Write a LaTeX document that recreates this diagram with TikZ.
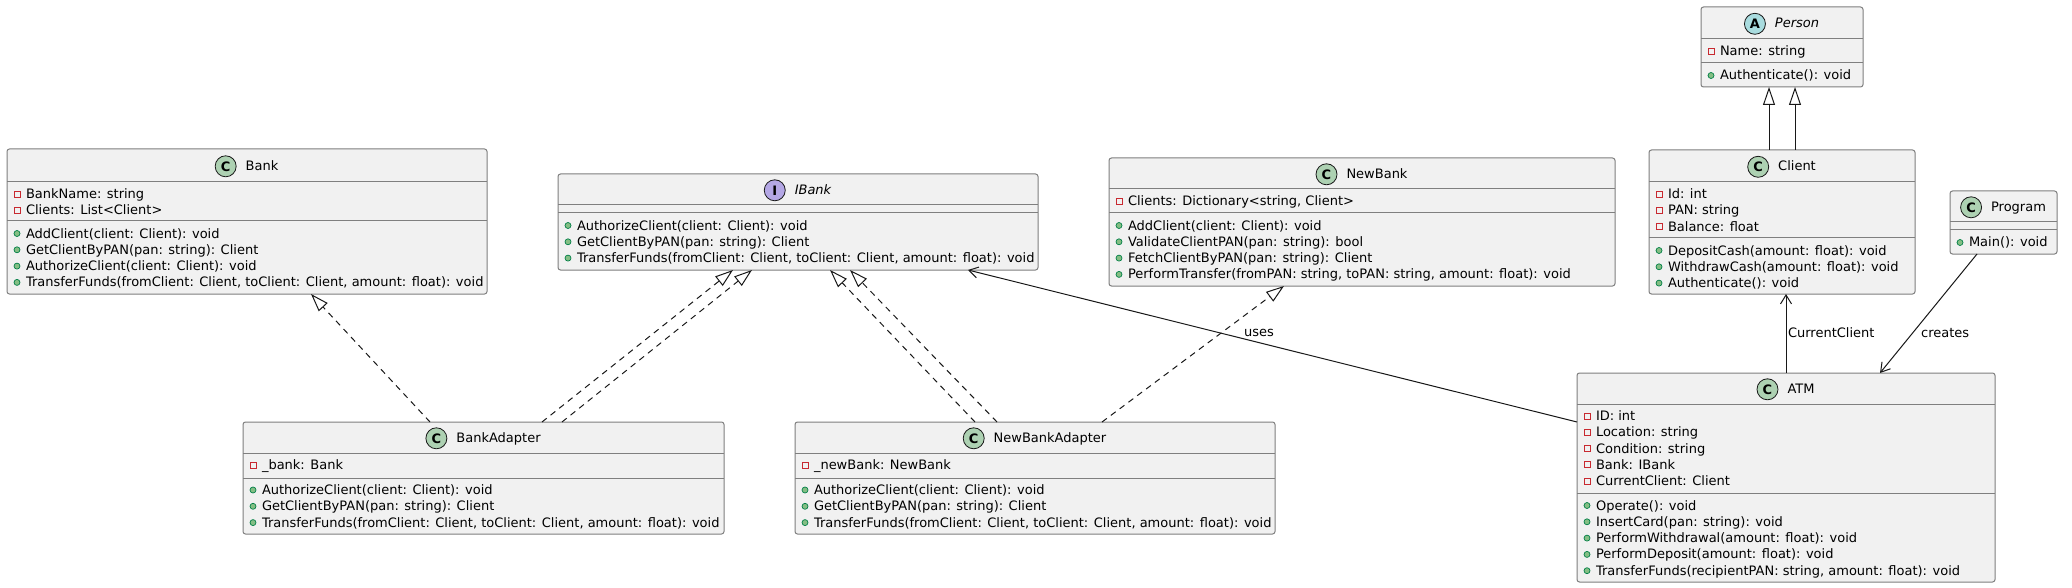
\documentclass[tikz,border=0pt]{standalone}
\usepackage{fontspec}
\setmainfont{DejaVu Sans}
\usetikzlibrary{arrows.meta,calc}
\definecolor{boxfill}{HTML}{F1F1F1}
\definecolor{boxline}{HTML}{7F7F7F}
\definecolor{conn}{HTML}{181818}
\definecolor{prvred}{HTML}{C82930}
\definecolor{pubfill}{HTML}{84BE84}
\definecolor{publine}{HTML}{038048}
\definecolor{spotC}{HTML}{ADD1B2}
\definecolor{spotI}{HTML}{B4A7E5}
\definecolor{spotA}{HTML}{A9DCDF}
\tikzset{
 clsbox/.style={draw=boxline, fill=boxfill, line width=1pt, rounded corners=2.5pt, inner sep=0pt, outer sep=0pt, anchor=north west},
 sepline/.style={draw=boxline, line width=1pt},
 rowtext/.style={inner sep=0pt, outer sep=0pt, anchor=base west, font=\fontsize{13}{16}\selectfont, text=black},
 hdrtext/.style={inner sep=0pt, outer sep=0pt, anchor=base, font=\fontsize{13}{16}\selectfont, text=black},
 spotc/.style={circle, draw=conn, line width=0.8pt, minimum size=21pt, inner sep=0pt, font=\fontsize{13}{16}\selectfont\bfseries},
 prvmark/.style={draw=prvred, line width=0.9pt},
 pubmark/.style={draw=publine, fill=pubfill, line width=0.7pt},
 conline/.style={draw=conn, line width=1pt},
 realize/.style={conline, dash pattern=on 6pt off 5pt, -{Triangle[open, length=18pt, width=12pt]}},
 generalize/.style={conline, -{Triangle[open, length=18pt, width=12pt]}},
 assoc/.style={conline, -{Straight Barb[length=9pt, width=11pt]}},
 lbl/.style={inner sep=0pt, font=\fontsize{13}{16}\selectfont, text=black},
}
\newcommand\umlbox[5]{\node[clsbox, minimum width=#4pt, minimum height=#5pt] (#1) at (#2,#3) {};}
\newcommand\umlsep[2]{\draw[sepline] ([yshift=-#2pt]#1.north west) -- ([yshift=-#2pt]#1.north east);}
\newcommand\umlhead[5]{%
  \node[hdrtext] (#1-name) at ([xshift=15pt, yshift={-(#2/2+4.8)*1pt}]#1.north) {#5};
  \node[spotc, fill=#4] (#1-spot) at ([xshift=-20pt, yshift=4pt]#1-name.base west) {#3};
}
\newcommand\umlattr[4]{%
  \draw[prvmark] ([xshift=7pt, yshift={-(#2+16.3*#3+0.5-3)*1pt}]#1.north west) rectangle ++(6pt,-6pt);
  \node[rowtext] (#1-a#3) at ([xshift=19pt, yshift={-(#2+16.3*#3+5)*1pt}]#1.north west) {#4};
}
\newcommand\umlmeth[4]{%
  \path[pubmark] ([xshift=10pt, yshift={-(#2+16.3*#3+0.5)*1pt}]#1.north west) circle (3pt);
  \node[rowtext] (#1-m#3) at ([xshift=19pt, yshift={-(#2+16.3*#3+5)*1pt}]#1.north west) {#4};
}
\begin{document}
\begin{tikzpicture}[x=1pt,y=-1pt]
\useasboundingbox (0,0) rectangle (2072,588);
\fill[white] (0,0) rectangle (2072,588);

% Bank
\umlbox{bank}{7}{149}{480}{145}
\umlsep{bank}{33}\umlsep{bank}{72}
\umlhead{bank}{33}{C}{spotC}{Bank}
\umlattr{bank}{44.5}{0}{BankName: string}
\umlattr{bank}{44.5}{1}{Clients: List<Client>}
\umlmeth{bank}{84}{0}{AddClient(client: Client): void}
\umlmeth{bank}{84}{1}{GetClientByPAN(pan: string): Client}
\umlmeth{bank}{84}{2}{AuthorizeClient(client: Client): void}
\umlmeth{bank}{84}{3}{TransferFunds(fromClient: Client, toClient: Client, amount: float): void}

% IBank
\umlbox{ibank}{558}{174}{480}{96}
\umlsep{ibank}{31}\umlsep{ibank}{39}
\umlhead{ibank}{31}{I}{spotI}{\itshape IBank}
\umlmeth{ibank}{51}{0}{AuthorizeClient(client: Client): void}
\umlmeth{ibank}{51}{1}{GetClientByPAN(pan: string): Client}
\umlmeth{ibank}{51}{2}{TransferFunds(fromClient: Client, toClient: Client, amount: float): void}

% NewBank
\umlbox{newbank}{1109}{158}{506}{128}
\umlsep{newbank}{31}\umlsep{newbank}{55}
\umlhead{newbank}{31}{C}{spotC}{NewBank}
\umlattr{newbank}{42.5}{0}{Clients: Dictionary<string, Client>}
\umlmeth{newbank}{67}{0}{AddClient(client: Client): void}
\umlmeth{newbank}{67}{1}{ValidateClientPAN(pan: string): bool}
\umlmeth{newbank}{67}{2}{FetchClientByPAN(pan: string): Client}
\umlmeth{newbank}{67}{3}{PerformTransfer(fromPAN: string, toPAN: string, amount: float): void}

% Person
\umlbox{person}{1701}{7}{162}{80}
\umlsep{person}{32}\umlsep{person}{56}
\umlhead{person}{32}{A}{spotA}{\itshape Person}
\umlattr{person}{44}{0}{Name: string}
\umlmeth{person}{68}{0}{Authenticate(): void}

% Client
\umlbox{client}{1649}{150}{266}{144}
\umlsep{client}{32}\umlsep{client}{88}
\umlhead{client}{32}{C}{spotC}{Client}
\umlattr{client}{43.5}{0}{Id: int}
\umlattr{client}{43.5}{1}{PAN: string}
\umlattr{client}{43.5}{2}{Balance: float}
\umlmeth{client}{100}{0}{DepositCash(amount: float): void}
\umlmeth{client}{100}{1}{WithdrawCash(amount: float): void}
\umlmeth{client}{100}{2}{Authenticate(): void}

% Program
\umlbox{program}{1950}{191}{107}{63}
\umlsep{program}{31}\umlsep{program}{39}
\umlhead{program}{31}{C}{spotC}{Program}
\umlmeth{program}{51}{0}{Main(): void}

% ATM
\umlbox{atm}{1577}{373}{418}{209}
\umlsep{atm}{31}\umlsep{atm}{120}
\umlhead{atm}{31}{C}{spotC}{ATM}
\umlattr{atm}{42.5}{0}{ID: int}
\umlattr{atm}{42.5}{1}{Location: string}
\umlattr{atm}{42.5}{2}{Condition: string}
\umlattr{atm}{42.5}{3}{Bank: IBank}
\umlattr{atm}{42.5}{4}{CurrentClient: Client}
\umlmeth{atm}{132}{0}{Operate(): void}
\umlmeth{atm}{132}{1}{InsertCard(pan: string): void}
\umlmeth{atm}{132}{2}{PerformWithdrawal(amount: float): void}
\umlmeth{atm}{132}{3}{PerformDeposit(amount: float): void}
\umlmeth{atm}{132}{4}{TransferFunds(recipientPAN: string, amount: float): void}

% BankAdapter
\umlbox{badapt}{243}{422}{481}{112}
\umlsep{badapt}{31}\umlsep{badapt}{56}
\umlhead{badapt}{31}{C}{spotC}{BankAdapter}
\umlattr{badapt}{42.5}{0}{\_bank: Bank}
\umlmeth{badapt}{67.5}{0}{AuthorizeClient(client: Client): void}
\umlmeth{badapt}{67.5}{1}{GetClientByPAN(pan: string): Client}
\umlmeth{badapt}{67.5}{2}{TransferFunds(fromClient: Client, toClient: Client, amount: float): void}

% NewBankAdapter
\umlbox{nbadapt}{795}{422}{480}{112}
\umlsep{nbadapt}{31}\umlsep{nbadapt}{56}
\umlhead{nbadapt}{31}{C}{spotC}{NewBankAdapter}
\umlattr{nbadapt}{42.5}{0}{\_newBank: NewBank}
\umlmeth{nbadapt}{67.5}{0}{AuthorizeClient(client: Client): void}
\umlmeth{nbadapt}{67.5}{1}{GetClientByPAN(pan: string): Client}
\umlmeth{nbadapt}{67.5}{2}{TransferFunds(fromClient: Client, toClient: Client, amount: float): void}

% connectors
\draw[realize] ([xshift=187pt]badapt.north west) -- ([xshift=304pt]bank.south west);
\draw[realize] ([xshift=299pt]badapt.north west) -- ([xshift=175pt]ibank.south west);
\draw[realize] ([xshift=319pt]badapt.north west) -- ([xshift=194pt]ibank.south west);
\draw[realize] ([xshift=180pt]nbadapt.north west) -- ([xshift=272pt]ibank.south west);
\draw[realize] ([xshift=202pt]nbadapt.north west) -- ([xshift=292pt]ibank.south west);
\draw[realize] ([xshift=307pt]nbadapt.north west) -- ([xshift=175pt]newbank.south west);
\draw[assoc] ([yshift=-49pt]atm.north west) -- node[lbl, pos=0.522, yshift=10pt] (luses) {uses} ([xshift=410pt]ibank.south west);
\draw[assoc] (atm.north) -- node[lbl, pos=0.506, anchor=west, xshift=1.5pt] (lcur) {CurrentClient} (atm.north |- client.south);
\draw[assoc] ([xshift=27pt]program.south west) -- node[lbl, pos=0.664, anchor=west, xshift=8pt] (lcre) {creates} ([xshift=303pt]atm.north west);
\draw[generalize] ([xshift=120pt]client.north west) -- ([xshift=68pt]person.south west);
\draw[generalize] ([xshift=146pt]client.north west) -- ([xshift=94pt]person.south west);
\end{tikzpicture}
\end{document}
